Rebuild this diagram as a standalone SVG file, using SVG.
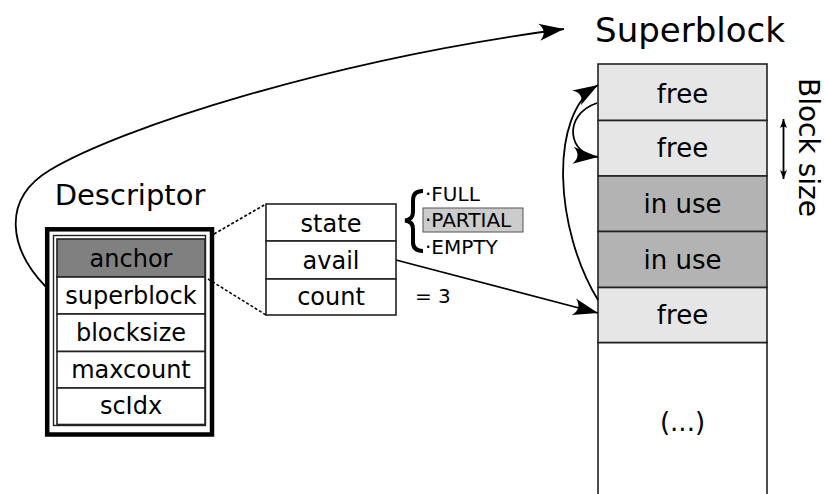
<svg xmlns="http://www.w3.org/2000/svg" width="826" height="494" viewBox="0 0 826 494">
  <style>
    text { font-family: "DejaVu Sans", "Liberation Sans", sans-serif; fill: #000; }
    .cell { stroke: #222; stroke-width: 1.6; }
    .field { fill: #fff; }
    .free { fill: #e6e6e6; }
    .used { fill: #b3b3b3; }
    .lbl { font-size: 24px; text-anchor: middle; }
    .blk { font-size: 26px; text-anchor: middle; }
    .state { font-size: 20px; }
    .conn { fill: none; stroke: #000; stroke-width: 1.8; }
    .dots { fill: none; stroke: #000; stroke-width: 1.5; stroke-dasharray: 3 2; }
  </style>
  <defs>
    <marker id="arrow" markerUnits="userSpaceOnUse" viewBox="-26 -10 28 20" refX="0" refY="0" markerWidth="28" markerHeight="20" orient="auto" overflow="visible">
      <path d="M0,0 L-25,-8.5 C-19,-3 -19,3 -25,8.5 Z" fill="#000"/>
    </marker>
    <marker id="tick" markerUnits="userSpaceOnUse" viewBox="-10 -5 12 10" refX="0" refY="0" markerWidth="12" markerHeight="10" orient="auto-start-reverse" overflow="visible">
      <path d="M0,0 L-9,-3.5 C-7,-1 -7,1 -9,3.5 Z" fill="#000"/>
    </marker>
  </defs>
  <rect width="826" height="494" fill="#fff"/>

  <!-- Descriptor record -->
  <g id="descriptor">
    <text x="130" y="205" font-size="29" text-anchor="middle">Descriptor</text>
    <rect x="47.2" y="229.3" width="164.8" height="205.2" fill="#fff" stroke="#000" stroke-width="4.5"/>
    <rect x="53.5" y="235.5" width="152" height="190" fill="none" stroke="#222" stroke-width="1.4"/>
    <rect class="cell" x="57" y="239" width="148" height="38" fill="#808080"/>
    <rect class="cell field" x="57" y="277" width="148" height="37"/>
    <rect class="cell field" x="57" y="314" width="148" height="37.5"/>
    <rect class="cell field" x="57" y="351.5" width="148" height="36.5"/>
    <rect class="cell field" x="57" y="388" width="148" height="36.5"/>
    <text class="lbl" x="131" y="267">anchor</text>
    <text class="lbl" x="131" y="304">superblock</text>
    <text class="lbl" x="131" y="341">blocksize</text>
    <text class="lbl" x="131" y="378">maxcount</text>
    <text class="lbl" x="131" y="414">scIdx</text>
  </g>

  <!-- Anchor fields -->
  <g id="anchor">
    <rect class="cell field" x="266" y="204" width="130" height="37"/>
    <rect class="cell field" x="266" y="241" width="130" height="38"/>
    <rect class="cell field" x="266" y="279" width="130" height="36"/>
    <text class="lbl" x="331" y="232">state</text>
    <text class="lbl" x="331" y="269">avail</text>
    <text class="lbl" x="331" y="305">count</text>
    <text class="state" x="415" y="303">= 3</text>
  </g>

  <!-- State values -->
  <g id="states">
    <path d="M423,191 C415,191 413,195 413,200 L413,212 C413,217 410,220 405,220.5 C410,221 413,224 413,229 L413,242 C413,247 415,251 423,251" fill="none" stroke="#000" stroke-width="4"/>
    <rect x="423" y="208" width="100" height="24" fill="#ccc" stroke="#555" stroke-width="1"/>
    <text class="state" x="425" y="201">·FULL</text>
    <text class="state" x="425" y="227">·PARTIAL</text>
    <text class="state" x="425" y="254">·EMPTY</text>
  </g>

  <!-- Superblock -->
  <g id="superblock">
    <text x="690" y="42" font-size="34" text-anchor="middle">Superblock</text>
    <rect class="cell field" x="598" y="342.5" width="169" height="160"/>
    <rect class="cell free" x="598" y="64" width="169" height="56.5"/>
    <rect class="cell free" x="598" y="120.5" width="169" height="55.5"/>
    <rect class="cell used" x="598" y="176" width="169" height="55.5"/>
    <rect class="cell used" x="598" y="231.5" width="169" height="56"/>
    <rect class="cell free" x="598" y="287.5" width="169" height="55"/>
    <text class="blk" x="682.5" y="103">free</text>
    <text class="blk" x="682.5" y="157">free</text>
    <text class="blk" x="682.5" y="213">in use</text>
    <text class="blk" x="682.5" y="269">in use</text>
    <text class="blk" x="682.5" y="324">free</text>
    <text class="blk" x="682.5" y="431">(...)</text>
  </g>

  <!-- Block size annotation -->
  <g id="blocksize">
    <line class="conn" x1="783.5" y1="119" x2="783.5" y2="179" stroke-width="1.6" marker-start="url(#tick)" marker-end="url(#tick)"/>
    <text transform="translate(799,78) rotate(90)" font-size="28">Block size</text>
  </g>

  <!-- Connectors -->
  <g id="connectors">
    <path class="dots" d="M214,234 L266,204"/>
    <path class="dots" d="M208,279 L266,315"/>
    <path class="conn" d="M46,287 C10,250 0,200 50,170 C120,128 330,60 564,29" marker-end="url(#arrow)"/>
    <path class="conn" d="M396,260 L598,313" marker-end="url(#arrow)"/>
    <path class="conn" d="M598,300 C555,230 548,115 598,85" marker-end="url(#arrow)"/>
    <path class="conn" d="M597,103 C562,115 568,155 598,157" marker-end="url(#arrow)"/>
  </g>
</svg>
